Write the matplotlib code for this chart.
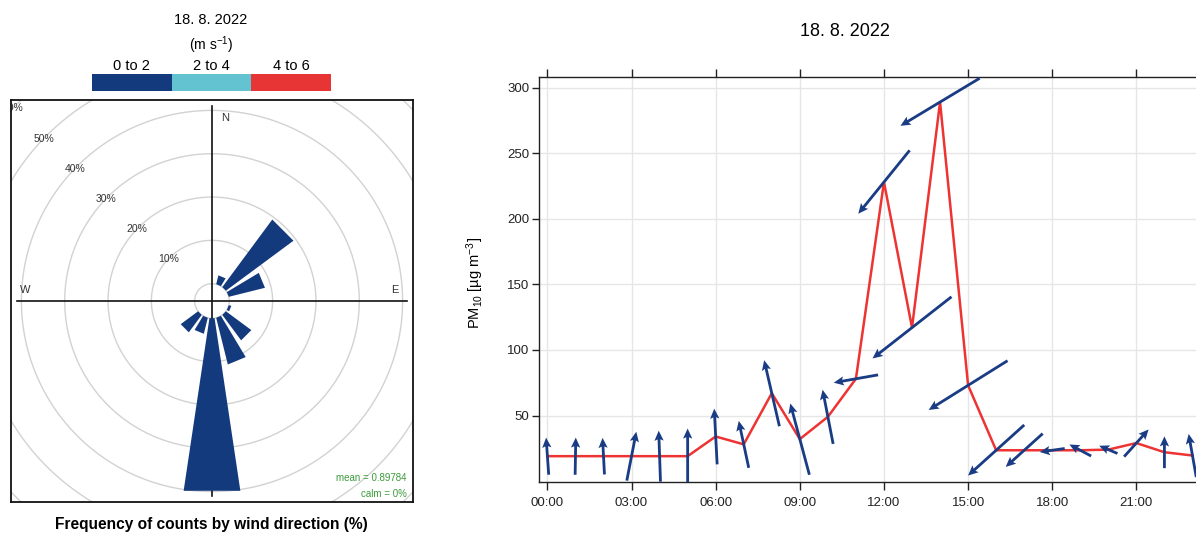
import numpy as np
import matplotlib
matplotlib.use('Agg')
import matplotlib.pyplot as plt
from matplotlib.patches import Polygon

plt.rcParams['font.family'] = ['Liberation Sans', 'DejaVu Sans']
plt.rcParams['mathtext.default'] = 'regular'

# hourly PM10 and wind for 18. 8. 2022
hours = np.arange(24)
pm10 = [19, 19, 19, 19, 19, 19, 34, 28, 67, 32, 49, 78, 228, 117, 289, 73,
        23.5, 23.5, 23.5, 23.5, 24, 29, 22, 19.5]
ws = [0.62, 0.62, 0.61, 0.83, 0.85, 0.92, 0.93, 0.80, 1.13, 1.23, 0.92, 0.75,
      1.36, 1.67, 1.54, 1.55, 1.26, 0.83, 0.42, 0.41, 0.33, 0.61, 0.53, 0.73]
wd = [176, 181, 177, 191, 178, 180, 177, 168, 167, 165, 169, 80,
      39, 52, 59, 58, 48, 48, 82, 118, 113, 222, 180, 170]

# wind rose, share of counts (%) per 22.5 deg sector, all in the 0-2 m/s band
rose_dirs = [22.5, 45, 67.5, 112.5, 135, 157.5, 180, 202.5, 225]
rose_freq = [2.1, 19.4, 8.6, 0.6, 7.3, 11.1, 40.3, 3.8, 5.0]
ws_bins = ['0 to 2', '2 to 4', '4 to 6']
bin_colors = ['#143A7E', '#63C3D1', '#E73536']
rings = [10, 20, 30, 40, 50, 60]
mean_ws = 0.89784
calm = 0

x_ticks = [0, 3, 6, 9, 12, 15, 18, 21]
x_labels = ['00:00', '03:00', '06:00', '09:00', '12:00', '15:00', '18:00', '21:00']
y_ticks = [50, 100, 150, 200, 250, 300]

W, H = 1196, 535
navy = '#1A3C84'
line_red = '#EE3333'
green = '#3C9A3C'

fig = plt.figure(figsize=(W / 100, H / 100), dpi=100)

# ---- wind rose ----
ax_r = fig.add_axes([11 / W, 1 - 502 / H, 402 / W, 402 / H])
lim = 46.4
offset = 4.0
ax_r.set_xlim(-lim, lim)
ax_r.set_ylim(-lim, lim)
ax_r.set_xticks([])
ax_r.set_yticks([])
for s in ax_r.spines.values():
    s.set_linewidth(1.3)
    s.set_color('#111111')


def compass_xy(r, deg):
    a = np.radians(deg)
    return r * np.sin(a), r * np.cos(a)


# grey rings incl. the inner offset circle
t = np.linspace(0, 360, 361)
for r in [0] + rings:
    x, y = compass_xy(offset + r, t)
    ax_r.plot(x, y, color='#d2d2d2', lw=1, zorder=1)
    if r > 0:
        lx, ly = compass_xy(offset + r, 314)
        ax_r.text(lx, ly, f'{r}%', fontsize=7.5, ha='center', va='center',
                  color='#333333', zorder=2, clip_on=True)

# crosshair and compass letters
ax_r.plot([-45, 45], [0, 0], color='#111111', lw=1.2, zorder=2)
ax_r.plot([0, 0], [-45, 45], color='#111111', lw=1.2, zorder=2)
ax_r.text(3.0, 42.3, 'N', fontsize=8, ha='center', va='center', color='#333333')
ax_r.text(42.3, 2.5, 'E', fontsize=8, ha='center', va='center', color='#333333')
ax_r.text(-43.1, 2.6, 'W', fontsize=8, ha='center', va='center', color='#333333')
ax_r.text(3.0, -42.3, 'S', fontsize=8, ha='center', va='center', color='#333333')

# sector bars
half = 8.5
for d, f in zip(rose_dirs, rose_freq):
    pts = [compass_xy(offset, d - half), compass_xy(offset + f, d - half),
           compass_xy(offset + f, d + half), compass_xy(offset, d + half)]
    ax_r.add_patch(Polygon(pts, closed=True, fc=bin_colors[0], ec='none', zorder=3))

ax_r.text(44.9, -40.9, f'mean = {mean_ws}', fontsize=7, ha='right', va='center',
          color=green, zorder=4)
ax_r.text(44.9, -44.6, f'calm = {calm}%', fontsize=7, ha='right', va='center',
          color=green, zorder=4)

# header and speed key
fig.text(211 / W, 1 - 20 / H, '18. 8. 2022', ha='center', va='center', fontsize=10.5)
fig.text(211 / W, 1 - 45 / H, '(m s$^{-1}$)', ha='center', va='center', fontsize=10)
ax_k = fig.add_axes([92 / W, 1 - 91 / H, 239 / W, 17 / H])
ax_k.bar(range(3), [1, 1, 1], width=1, color=bin_colors)
ax_k.set_xlim(-0.5, 2.5)
ax_k.set_ylim(0, 1)
ax_k.axis('off')
for i, lab in enumerate(ws_bins):
    ax_k.text(i, 1.47, lab, ha='center', va='center', fontsize=10.5, clip_on=False)

fig.text(211 / W, 1 - 525 / H, 'Frequency of counts by wind direction (%)',
         ha='center', va='center', fontsize=11.2, fontweight='bold')

# ---- PM10 time series with wind arrows ----
ax = fig.add_axes([539 / W, 1 - 482 / H, (1225 - 539) / W, 405 / H])
ax.set_xlim(-0.3, 24.16)
ax.set_ylim(-0.7, 308.1)
ax.grid(True, color='#e6e6e6', lw=1)
ax.set_axisbelow(True)

ax.plot(hours, pm10, color=line_red, lw=1.8, zorder=3)

# arrows point downwind, centred on each hourly value
to_dir = np.radians(np.array(wd) + 180)
u = np.array(ws) * np.sin(to_dir)
v = np.array(ws) * np.cos(to_dir)
ax.quiver(hours, pm10, u, v, angles='uv', pivot='middle', scale_units='dots',
          scale=1 / 60, units='dots', width=2.8, headwidth=3.3, headlength=3.6,
          headaxislength=3.1, color=navy, zorder=4)

ax.set_xticks(x_ticks)
ax.set_xticklabels(x_labels)
ax.set_yticks(y_ticks)
ax.tick_params(axis='x', direction='out', length=6, width=1, top=True,
               labeltop=False, labelsize=9.5, pad=5, colors='#222222')
ax.tick_params(axis='y', direction='out', length=5.3, width=1, labelsize=9.5,
               pad=1.5, colors='#222222')
for s in ax.spines.values():
    s.set_color('#222222')
    s.set_linewidth(1)

fig.text(845 / W, 1 - 32 / H, '18. 8. 2022', ha='center', va='center', fontsize=13)
fig.text(475 / W, 1 - 283 / H, 'PM$_{10}$ [µg m$^{-3}$]', ha='center', va='center',
         rotation=90, fontsize=10.5)

fig.savefig('out.png', dpi=100)
